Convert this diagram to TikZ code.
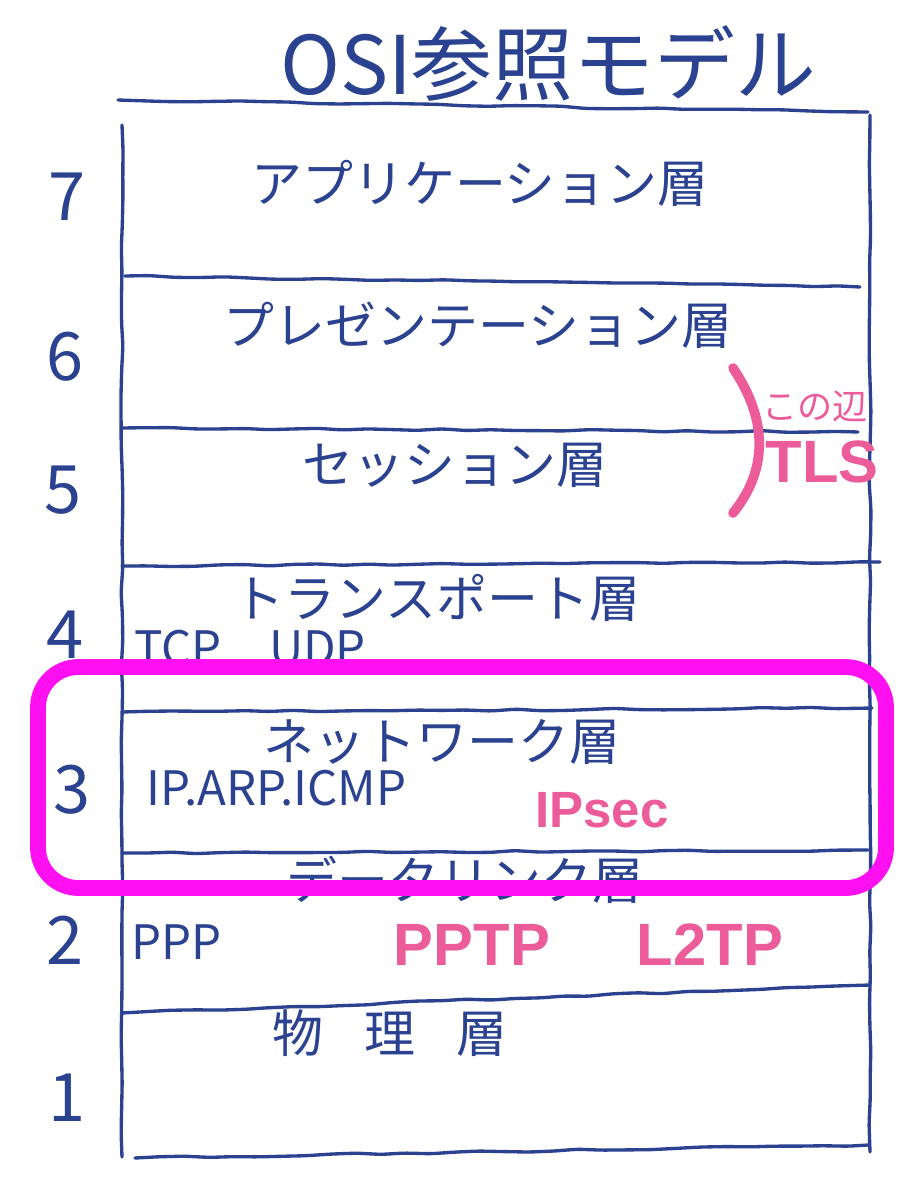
\documentclass[tikz,border=0pt]{standalone}
\usepackage{fontspec}
\setmainfont{Noto Sans CJK JP}
\newfontfamily\markerfont{Liberation Sans}
\usepackage{tikz}
\usetikzlibrary{positioning}
\usetikzlibrary{decorations.pathmorphing}
\definecolor{ink}{HTML}{2B4290}
\definecolor{marker}{HTML}{EC5C9A}
\definecolor{hilite}{HTML}{FF10F0}

\begin{document}
\begin{tikzpicture}[x=0.02cm,y=-0.02cm,
        pen/.style={ink,line width=1.9pt,line cap=round,decorate,
          decoration={random steps,segment length=14pt,amplitude=0.6pt},rounded corners=3pt},
        layer/.style={ink,font=\fontsize{29}{34}\selectfont},
        num/.style={ink,font=\fontsize{38}{44}\selectfont},
        proto/.style={ink,font=\fontsize{27}{32}\selectfont,anchor=west},
        note/.style={marker,font=\markerfont\bfseries\fontsize{34}{40}\selectfont}]
        \useasboundingbox[fill=white] (0,0) rectangle (911,1200);

        \node[ink,font=\fontsize{46}{54}\selectfont] (title) at (548,64) {OSI参照モデル};

        \draw[pen] (118,100) -- (868,112);
        \draw[pen] (122,125) -- (122,1157);
        \draw[pen] (870,115) -- (870,1152);
        \draw[pen] (125,276) -- (860,287);
        \draw[pen] (122,428) -- (858,432);
        \draw[pen] (122,566) -- (880,562);
        \draw[pen] (122,712) -- (872,708);
        \draw[pen] (122,853) -- (868,850);
        \draw[pen] (122,1013) -- (870,985);
        \draw[pen] (135,1158) -- (868,1145);

        \node[num] (n7) at (67,197) {7};
        \node[num] (n6) at (65,357) {6};
        \node[num] (n5) at (63,490) {5};
        \node[num] (n4) at (65,635) {4};
        \node[num] (n3) at (72,790) {3};
        \node[num] (n2) at (65,940) {2};
        \node[num] (n1) at (67,1098) {1};

        \node[layer] (l7) at (480,183) {アプリケーション層};
        \node[layer] (l6) at (478,325) {プレゼンテーション層};
        \node[layer] (l5) at (455,465) {セッション層};
        \node[layer] (l4) at (437,598) {トランスポート層};
        \node[layer] (l3) at (442,742) {ネットワーク層};
        \node[layer] (l2) at (465,880) {データリンク層};
        \node[layer] (l1) at (390,1033) {物\hspace{0.8em}理\hspace{0.8em}層};

        \node[proto] (tcpudp) at (128,648) {TCP\quad UDP};
        \node[proto] (iparp) at (140,788) {IP.ARP.ICMP};
        \node[proto] (ppp) at (125,942) {PPP};

        \draw[hilite,line width=9pt,rounded corners=23pt] (38,667) rectangle (886,888);

        \draw[marker,line width=5.5pt,line cap=round] (733,368) .. controls (768,420) and (768,470) .. (733,513);
        \node[marker,font=\fontsize{20}{24}\selectfont] (kono) at (815,406) {この辺};
        \node[note] (tls) at (822,462) {TLS};
        \node[note,font=\markerfont\bfseries\fontsize{29}{34}\selectfont] (ipsec) at (602,810) {IPsec};
        \node[note] (pptp) at (472,945) {PPTP};
        \node[note] (l2tp) at (710,945) {L2TP};
      \end{tikzpicture}
\end{document}
